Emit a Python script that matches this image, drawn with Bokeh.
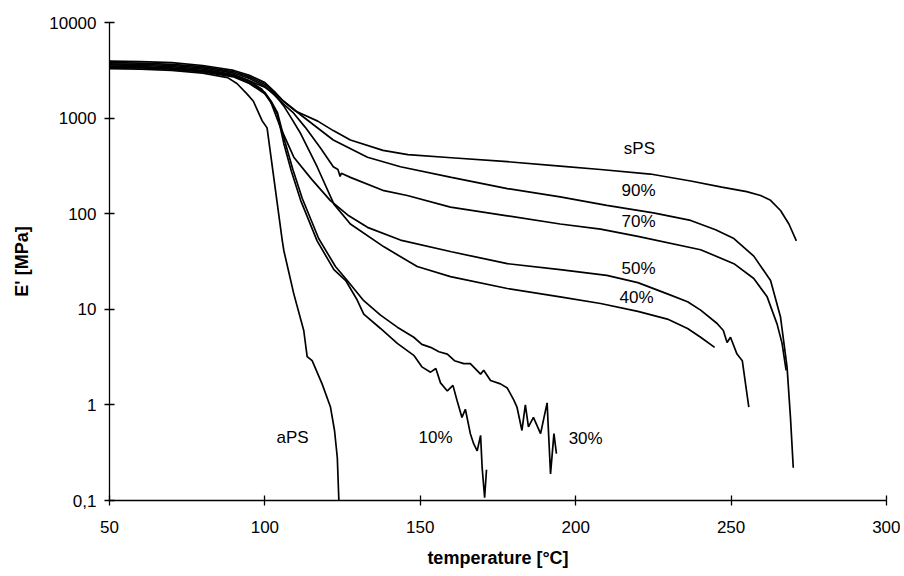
from bokeh.plotting import figure
from bokeh.models import FixedTicker, Range1d
from bokeh.embed import file_html
from bokeh.resources import INLINE
from bokeh.core.properties import value

# ---------------- data (temperature in °C, E' in MPa) ----------------
aps_t = [50, 60, 70, 80, 88, 91, 94.3, 96.3, 99.1, 100.7, 105.6, 106.1, 109.3, 112.5, 113.6, 115.2, 118.4, 121.1, 122.4, 123.3, 123.8]
aps_e = [3300, 3250, 3150, 2950, 2650, 2300, 1780, 1500, 940, 790, 52, 41, 14.5, 6.0, 3.2, 2.9, 1.66, 0.95, 0.54, 0.28, 0.1]

sps_t = [50, 60, 70, 80, 90, 95, 100, 103, 106, 110, 117, 122, 127.5, 138, 146, 160, 178, 195, 208, 224, 237, 247, 255, 259.5, 262.7, 265.9, 268.6, 271]
sps_e = [3950, 3900, 3800, 3550, 3150, 2800, 2350, 1900, 1500, 1180, 930, 740, 590, 460, 415, 385, 350, 315, 290, 260, 220, 190, 170, 155, 138, 108, 78, 52]

p90_t = [50, 60, 70, 80, 90, 95, 100, 103, 106, 112.5, 122, 133, 143.6, 160, 178, 195, 210, 225, 237, 245, 250.9, 257.3, 262.7, 265.9, 268, 269.1, 270]
p90_e = [3800, 3750, 3650, 3450, 3050, 2700, 2250, 1850, 1500, 1020, 590, 390, 310, 240, 183, 150, 122, 102, 85, 68, 55, 36, 20, 8.3, 2.5, 0.74, 0.22]

p70_t = [50, 60, 70, 80, 90, 95, 100, 103, 106, 109, 113, 118, 122, 123.5, 124.2, 124.6, 127.5, 138.3, 145.8, 159.7, 178, 195, 208, 220, 240.2, 250.9, 257.3, 261.6, 264.8, 266.4, 267.7]
p70_e = [3700, 3650, 3550, 3350, 2950, 2600, 2150, 1750, 1400, 1150, 800, 480, 310, 290, 245, 265, 240, 174, 155, 117, 95, 78, 69, 58, 42, 30, 21, 13.5, 7, 4.4, 2.3]

p50_t = [50, 60, 70, 80, 90, 95, 99, 101.8, 105, 109.3, 115, 121, 127, 133, 143.6, 160, 178, 195, 210, 220, 229.5, 236, 240.2, 245.5, 247.5, 248.7, 249.8, 251.9, 253.6, 254.6, 255.7]
p50_e = [3600, 3550, 3450, 3250, 2850, 2450, 2000, 1500, 800, 390, 230, 138, 95, 72, 53, 40, 30, 26, 22.6, 19, 14.5, 12, 9.8, 7.1, 6.0, 4.5, 5.1, 3.4, 2.9, 1.7, 0.95]

p40_t = [50, 60, 70, 80, 90, 95, 100, 103, 106, 108.5, 111.5, 116.8, 122.2, 127.5, 138.3, 149, 159.7, 178, 195, 208, 220, 229.5, 236, 240.2, 244.7]
p40_e = [3500, 3450, 3350, 3150, 2800, 2450, 2100, 1800, 1350, 1000, 690, 310, 126, 78, 45, 28, 22, 16.5, 13.5, 11.5, 9.5, 7.9, 6.3, 5.1, 4.0]

p30_t = [50, 60, 70, 80, 90, 95, 100, 102, 104, 106.5, 109, 112, 117.3, 122.7, 126.5, 131.8, 137.2, 142.6, 147.9, 150.5, 153.3, 156, 158.7, 161, 164, 166.1, 169.4, 170.4, 172.6, 175.8, 178, 180.1, 181.1, 182.7, 183.8, 184.8, 186.4, 188.7, 190.8, 191.9, 193, 193.8]
p30_e = [3450, 3400, 3300, 3100, 2750, 2350, 1850, 1500, 1150, 560, 290, 145, 55, 28, 20, 12.3, 8.7, 6.5, 5.1, 4.3, 4.0, 3.6, 3.4, 2.9, 2.7, 2.7, 2.1, 2.3, 1.8, 1.66, 1.5, 1.12, 0.95, 0.54, 1.0, 0.59, 0.74, 0.5, 1.05, 0.19, 0.5, 0.31]

p10_t = [50, 60, 70, 80, 90, 95, 100, 102, 104, 106.1, 108.5, 111.5, 116.8, 122.2, 126, 129.7, 131.8, 137.2, 142.6, 147.9, 150.5, 153.3, 155, 156.5, 158.7, 160.5, 161.8, 163.4, 164.5, 166.1, 167.2, 168.3, 169.4, 169.9, 170.7, 171.3]
p10_e = [3400, 3350, 3250, 3050, 2700, 2300, 1800, 1450, 1100, 540, 280, 138, 52, 26, 20, 12.5, 8.9, 6.3, 4.4, 3.3, 2.5, 2.2, 2.4, 1.7, 1.4, 1.6, 1.12, 0.74, 0.9, 0.5, 0.39, 0.33, 0.48, 0.22, 0.107, 0.21]

series = [(aps_t, aps_e), (sps_t, sps_e), (p90_t, p90_e), (p70_t, p70_e),
          (p50_t, p50_e), (p40_t, p40_e), (p30_t, p30_e), (p10_t, p10_e)]

labels = ["sPS", "90%", "70%", "50%", "40%", "aPS", "10%", "30%"]
label_t = [220.5, 220.2, 220.2, 220.2, 219.6, 108.9, 154.9, 203.2]
label_e = [480, 174, 83, 27, 13.2, 0.46, 0.46, 0.45]

x_ticks = [50, 100, 150, 200, 250, 300]
y_ticks = [0.1, 1, 10, 100, 1000, 10000]
y_tick_labels = ["0,1", "1", "10", "100", "1000", "10000"]

# ---------------- figure ----------------
FONT = "Liberation Sans"
p = figure(width=900, height=574, output_backend="svg", toolbar_location=None,
           x_range=Range1d(50, 300), y_range=Range1d(0.1, 10000), y_axis_type="log",
           min_border_left=109, min_border_right=14, min_border_top=22, min_border_bottom=74)
p.outline_line_color = None
p.grid.visible = False
p.background_fill_color = "white"
p.border_fill_color = "white"

for t, e in series:
    p.line(t, e, line_color="black", line_width=1.7)

p.text(x=label_t, y=label_e, text=labels, text_font=value(FONT), text_font_size="17px",
       text_align="center", text_baseline="middle", text_color="black")

p.xaxis.ticker = FixedTicker(ticks=x_ticks, minor_ticks=[])
p.yaxis.ticker = FixedTicker(ticks=y_ticks, minor_ticks=[])
p.yaxis.major_label_overrides = dict(zip(y_ticks, y_tick_labels))

for ax in (p.xaxis[0], p.yaxis[0]):
    ax.axis_line_color = "black"
    ax.axis_line_width = 1.3
    ax.major_tick_line_color = "black"
    ax.major_tick_line_width = 1.3
    ax.major_tick_in = 5
    ax.major_tick_out = 5
    ax.minor_tick_line_color = None
    ax.major_label_text_font = FONT
    ax.major_label_text_font_size = "17px"
    ax.major_label_text_color = "black"
    ax.axis_label_text_font = FONT
    ax.axis_label_text_font_size = "18px"
    ax.axis_label_text_font_style = "bold"
    ax.axis_label_text_color = "black"

p.xaxis.axis_label = "temperature [°C]"
p.yaxis.axis_label = "E' [MPa]"
p.xaxis.major_label_standoff = 15
p.xaxis.axis_label_standoff = 12
p.yaxis.major_label_standoff = 8
p.yaxis.axis_label_standoff = 14

open("out.html", "w").write(file_html(p, INLINE))
